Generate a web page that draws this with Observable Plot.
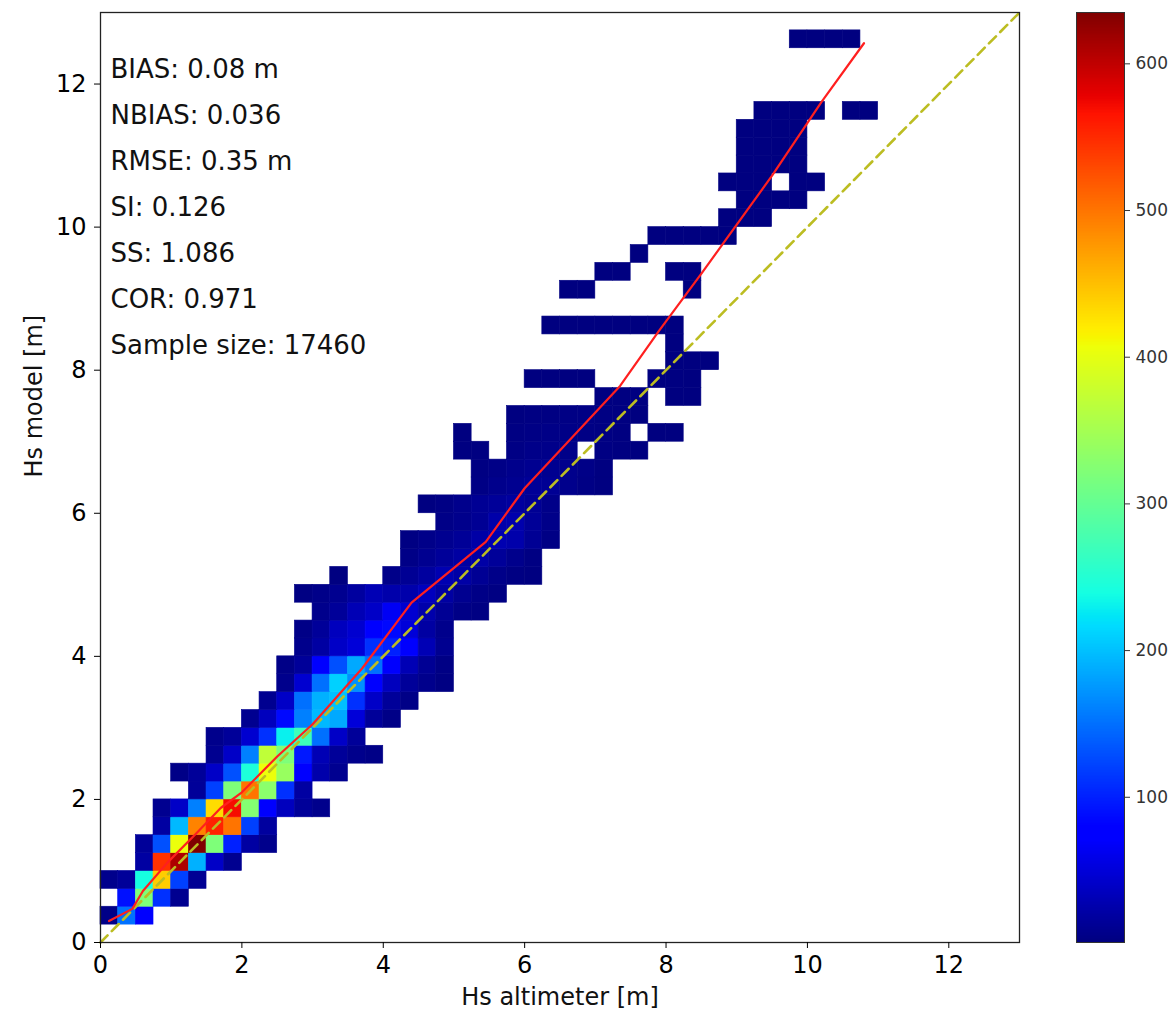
<!DOCTYPE html>
<html>
<head>
<meta charset="utf-8">
<script src="https://cdn.jsdelivr.net/npm/d3@7"></script>
<script src="https://cdn.jsdelivr.net/npm/@observablehq/plot@0.6"></script>
<style>
  body { margin: 0; background: #fff; }
  #chart { position: relative; width: 1176px; height: 1012px; background: #fff; font-family: "DejaVu Sans", sans-serif; }
  #main { position: absolute; left: 0; top: 0; }
  #cbar { position: absolute; left: 1046px; top: 0; }
</style>
</head>
<body>
<div id="chart"><div id="main"></div><div id="cbar"></div></div>
<script>
// Hs model vs Hs altimeter: 2D histogram of collocated samples (0.25 m bins)
const binSize = 0.25;

// Each row: [model bin lower edge (m), altimeter lower edge of first count (m), counts...]; 0 = empty bin
const histRows = [
  [0.25, 0.00, [5, 150, 80]],
  [0.50, 0.25, [90, 320, 110, 10]],
  [0.75, 0.00, [8, 15, 240, 440, 120, 12]],
  [1.00, 0.50, [20, 545, 610, 190, 40, 10]],
  [1.25, 0.50, [15, 130, 405, 635, 320, 100, 20, 8]],
  [1.50, 0.75, [20, 195, 490, 555, 500, 120, 18]],
  [1.75, 0.75, [10, 40, 160, 430, 570, 325, 75, 35, 15, 8]],
  [2.00, 1.25, [15, 120, 320, 500, 330, 110, 20]],
  [2.25, 1.00, [5, 15, 40, 130, 245, 405, 340, 80, 25, 10]],
  [2.50, 1.50, [10, 40, 160, 370, 320, 95, 30, 15, 8, 5]],
  [2.75, 1.50, [8, 15, 45, 110, 230, 270, 150, 40, 15]],
  [3.00, 2.00, [10, 35, 85, 160, 195, 185, 50, 15, 5]],
  [3.25, 2.25, [10, 40, 150, 190, 200, 110, 40, 15, 5]],
  [3.50, 2.50, [8, 45, 150, 210, 170, 80, 35, 15, 8, 3]],
  [3.75, 2.50, [5, 15, 80, 130, 185, 150, 70, 30, 12, 4]],
  [4.00, 2.75, [8, 20, 40, 50, 110, 100, 70, 30, 10]],
  [4.25, 2.75, [5, 15, 35, 45, 80, 85, 50, 20, 8]],
  [4.50, 3.00, [8, 15, 30, 40, 65, 45, 25, 12, 5, 3]],
  [4.75, 2.75, [3, 6, 10, 18, 30, 25, 25, 35, 20, 10, 5, 3]],
  [5.00, 3.25, [2, 0, 0, 6, 12, 18, 28, 22, 12, 6, 3, 2]],
  [5.25, 4.25, [5, 10, 15, 20, 22, 15, 8, 3]],
  [5.50, 4.25, [3, 6, 10, 14, 22, 28, 25, 12, 4]],
  [5.75, 4.75, [5, 8, 12, 24, 26, 14, 6]],
  [6.00, 4.50, [2, 4, 8, 12, 15, 18, 12, 6]],
  [6.25, 5.25, [4, 8, 10, 14, 12, 8, 4, 2]],
  [6.50, 5.25, [3, 5, 8, 10, 10, 8, 5, 2]],
  [6.75, 5.00, [2, 2, 0, 4, 6, 7, 6, 0, 3, 2, 1]],
  [7.00, 5.00, [1, 0, 0, 3, 4, 5, 5, 4, 3, 2, 0, 1, 1]],
  [7.25, 5.75, [2, 3, 3, 4, 4, 3, 2, 1]],
  [7.50, 7.00, [2, 2, 2, 0, 1, 1]],
  [7.75, 6.00, [1, 1, 1, 1, 0, 0, 0, 1, 2, 1]],
  [8.00, 8.00, [1, 1, 1]],
  [8.25, 8.00, [1]],
  [8.50, 6.25, [1, 1, 1, 1, 1, 1, 1, 1]],
  [9.00, 6.50, [1, 1, 0, 0, 0, 0, 0, 1]],
  [9.25, 7.00, [1, 1, 0, 0, 1, 1]],
  [9.50, 7.50, [1]],
  [9.75, 7.75, [1, 1, 1, 1, 1]],
  [10.00, 8.75, [1, 1, 1]],
  [10.25, 9.00, [1, 1, 1, 1]],
  [10.50, 8.75, [1, 1, 1, 0, 1, 1]],
  [10.75, 9.00, [1, 1, 1, 1]],
  [11.00, 9.00, [1, 1, 1, 1]],
  [11.25, 9.00, [1, 1, 1, 1]],
  [11.50, 9.25, [1, 1, 1, 1, 0, 1, 1]],
  [12.50, 9.75, [1, 1, 1, 1]]
];

// Binned-mean curve of model Hs against altimeter Hs
const meanX = [0.12, 0.45, 0.60, 0.95, 1.35, 1.70, 2.00, 2.50, 3.00, 3.70, 4.40, 5.45, 6.00, 7.35, 7.90, 8.50, 9.50, 10.20, 10.80];
const meanY = [0.30, 0.47, 0.72, 1.12, 1.52, 1.88, 2.10, 2.60, 3.05, 3.83, 4.75, 5.60, 6.35, 7.78, 8.55, 9.35, 10.72, 11.75, 12.57];

// Error statistics
const statNames = ["BIAS", "NBIAS", "RMSE", "SI", "SS", "COR", "Sample size"];
const statValues = ["0.08 m", "0.036", "0.35 m", "0.126", "1.086", "0.971", "17460"];

const axisTicks = [0, 2, 4, 6, 8, 10, 12];
const axisMax = 13;
const countRange = [1, 635];
const countTicks = [100, 200, 300, 400, 500, 600];

// matplotlib "jet" colormap
function jet(t) {
  t = Math.max(0, Math.min(1, t));
  const seg = (pts) => {
    for (let k = 1; k < pts.length; k++) {
      if (t <= pts[k][0]) {
        const [x0, y0] = pts[k - 1], [x1, y1] = pts[k];
        return y0 + (y1 - y0) * (t - x0) / (x1 - x0);
      }
    }
    return pts[pts.length - 1][1];
  };
  const r = seg([[0, 0], [0.35, 0], [0.66, 1], [0.89, 1], [1, 0.5]]);
  const g = seg([[0, 0], [0.125, 0], [0.375, 1], [0.64, 1], [0.91, 0], [1, 0]]);
  const b = seg([[0, 0.5], [0.11, 1], [0.34, 1], [0.65, 0], [1, 0]]);
  return `rgb(${Math.round(r * 255)},${Math.round(g * 255)},${Math.round(b * 255)})`;
}

const cells = histRows.flatMap(([y0, x0, counts]) =>
  counts.map((n, k) => ({
    x1: x0 + k * binSize, x2: x0 + (k + 1) * binSize,
    y1: y0, y2: y0 + binSize, n
  })).filter(d => d.n > 0)
);
const meanCurve = meanX.map((x, k) => ({x, y: meanY[k]}));
const oneToOne = [{x: 0, y: 0}, {x: axisMax, y: axisMax}];
const statLines = statNames.map((s, k) => `${s}: ${statValues[k]}`);

const colorScale = {type: "linear", domain: countRange, interpolate: jet};

const main = Plot.plot({
  width: 1040,
  height: 1012,
  marginLeft: 100,
  marginRight: 21,
  marginTop: 12,
  marginBottom: 70,
  x: {domain: [0, axisMax], label: null},
  y: {domain: [0, axisMax], label: null},
  color: colorScale,
  style: {fontFamily: "DejaVu Sans, sans-serif", color: "#000", background: "#fff"},
  marks: [
    Plot.rect(cells, {x1: "x1", x2: "x2", y1: "y1", y2: "y2", fill: "n", stroke: "n", strokeWidth: 0.6}),
    Plot.line(oneToOne, {x: "x", y: "y", stroke: "#bcbd22", strokeWidth: 2.6, strokeDasharray: "10,6"}),
    Plot.line(meanCurve, {x: "x", y: "y", stroke: "#ff1f1f", strokeWidth: 2.2}),
    ...statLines.map((s, k) => Plot.text([s], {
      frameAnchor: "top-left", dx: 10, dy: 57 + 46 * k,
      textAnchor: "start", lineAnchor: "middle", fontSize: 26, fill: "#111"
    })),
    Plot.frame({stroke: "#222", strokeWidth: 1.3}),
    Plot.axisX(axisTicks, {anchor: "bottom", tickSize: 6, tickPadding: 7, fontSize: 24, tickFormat: d3.format("d"), label: null}),
    Plot.axisY(axisTicks, {anchor: "left", tickSize: 6, tickPadding: 8, fontSize: 24, tickFormat: d3.format("d"), label: null}),
    Plot.text(["Hs altimeter [m]"], {frameAnchor: "bottom", dy: 55, lineAnchor: "middle", fontSize: 24, fill: "#111"}),
    Plot.text(["Hs model [m]"], {frameAnchor: "left", dx: -66, rotate: -90, lineAnchor: "middle", fontSize: 24, fill: "#111"})
  ]
});
document.getElementById("main").appendChild(main);

// Vertical colour bar for the bin counts, same height as the axes
const rampStep = 1;
const ramp = d3.range(countRange[0], countRange[1], rampStep);
const cbar = Plot.plot({
  width: 130,
  height: 1012,
  marginLeft: 30,
  marginRight: 52,
  marginTop: 12,
  marginBottom: 70,
  x: {domain: [0, 1], axis: null},
  y: {domain: countRange, axis: null},
  color: colorScale,
  style: {fontFamily: "DejaVu Sans, sans-serif", color: "#333", background: "transparent"},
  marks: [
    Plot.rect(ramp, {
      x1: 0, x2: 1,
      y1: d => d, y2: d => Math.min(d + 2 * rampStep, countRange[1]),
      fill: d => d + rampStep / 2, shapeRendering: "crispEdges"
    }),
    Plot.frame({stroke: "#333", strokeWidth: 1}),
    Plot.axisY(countTicks, {anchor: "right", tickSize: 5, tickPadding: 6, fontSize: 17, label: null})
  ]
});
document.getElementById("cbar").appendChild(cbar);
</script>
</body>
</html>
